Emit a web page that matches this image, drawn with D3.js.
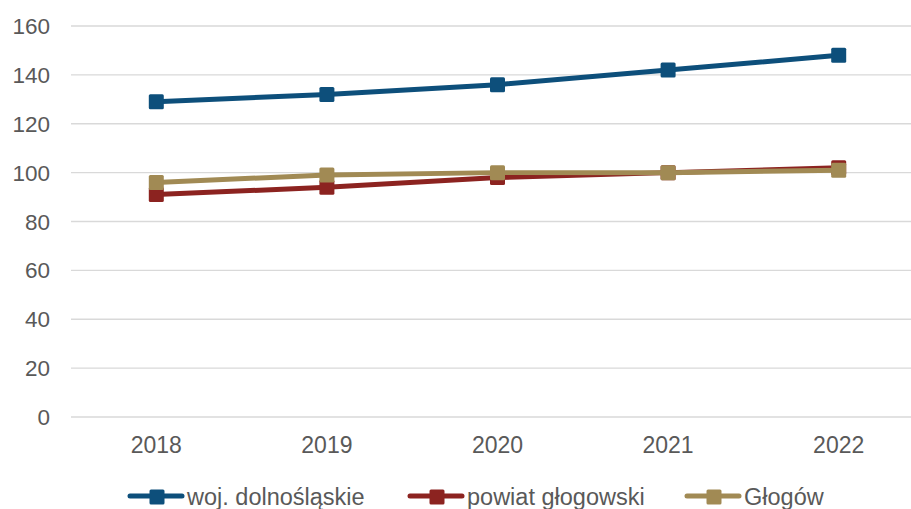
<!DOCTYPE html>
<html>
<head>
<meta charset="utf-8">
<script src="https://cdn.jsdelivr.net/npm/d3@7"></script>
<style>
  html, body { margin: 0; padding: 0; background: #fff; }
  svg { display: block; }
  text { font-family: "Liberation Sans", Arial, sans-serif; fill: #595959; }
</style>
</head>
<body>
<div id="chart"></div>
<script>
const years = ["2018", "2019", "2020", "2021", "2022"];
const seriesNames = ["woj. dolnośląskie", "powiat głogowski", "Głogów"];
const wojValues = [129, 132, 136, 142, 148];
const powiatValues = [91, 94, 98, 100, 102];
const glogowValues = [96, 99, 100, 100, 101];
const yTicks = [0, 20, 40, 60, 80, 100, 120, 140, 160];
const colors = ["#0D4F7B", "#8C2320", "#A18A54"];

const W = 911, H = 509;
const svg = d3.select("#chart").append("svg").attr("width", W).attr("height", H);

const x = d3.scaleBand().domain(years).range([71, 924]).padding(0);
const y = d3.scaleLinear().domain([0, 160]).range([417, 26]);

// gridlines
svg.append("g").selectAll("line").data(yTicks).join("line")
  .attr("x1", 71).attr("x2", 924)
  .attr("y1", d => y(d)).attr("y2", d => y(d))
  .attr("stroke", "#D9D9D9").attr("stroke-width", 1.3);

// y labels
svg.append("g").selectAll("text").data(yTicks).join("text")
  .attr("x", 50).attr("y", d => y(d)).attr("dy", "0.36em")
  .attr("text-anchor", "end").attr("font-size", 22.5)
  .text(d => d);

// x labels
svg.append("g").selectAll("text").data(years).join("text")
  .attr("x", d => x(d) + x.bandwidth() / 2).attr("y", 453)
  .attr("text-anchor", "middle").attr("font-size", 23)
  .text(d => d);

const series = [
  { name: seriesNames[0], values: wojValues, color: colors[0] },
  { name: seriesNames[1], values: powiatValues, color: colors[1] },
  { name: seriesNames[2], values: glogowValues, color: colors[2] }
];

const cx = d => x(d) + x.bandwidth() / 2;
const line = d3.line().x((d, i) => cx(years[i])).y(d => y(d));
const M = 15;

series.forEach(s => {
  const g = svg.append("g");
  g.append("path").datum(s.values).attr("d", line)
    .attr("fill", "none").attr("stroke", s.color).attr("stroke-width", 5)
    .attr("stroke-linejoin", "round");
  g.selectAll("rect").data(s.values).join("rect")
    .attr("x", (d, i) => cx(years[i]) - M / 2).attr("y", d => y(d) - M / 2)
    .attr("width", M).attr("height", M).attr("rx", 1.5)
    .attr("fill", s.color);
});

// legend
const legendX = [128, 408, 685];
const ly = 496;
series.forEach((s, i) => {
  const g = svg.append("g").attr("transform", `translate(${legendX[i]},${ly})`);
  g.append("line").attr("x1", 2).attr("x2", 54).attr("y1", 0).attr("y2", 0)
    .attr("stroke", s.color).attr("stroke-width", 5).attr("stroke-linecap", "round");
  g.append("rect").attr("x", 29 - M / 2).attr("y", -M / 2 + 1).attr("width", M).attr("height", M)
    .attr("rx", 1.5).attr("fill", s.color);
  g.append("text").attr("x", 59).attr("y", 0).attr("dy", "0.38em")
    .attr("font-size", 23.5).text(s.name);
});
</script>
</body>
</html>
